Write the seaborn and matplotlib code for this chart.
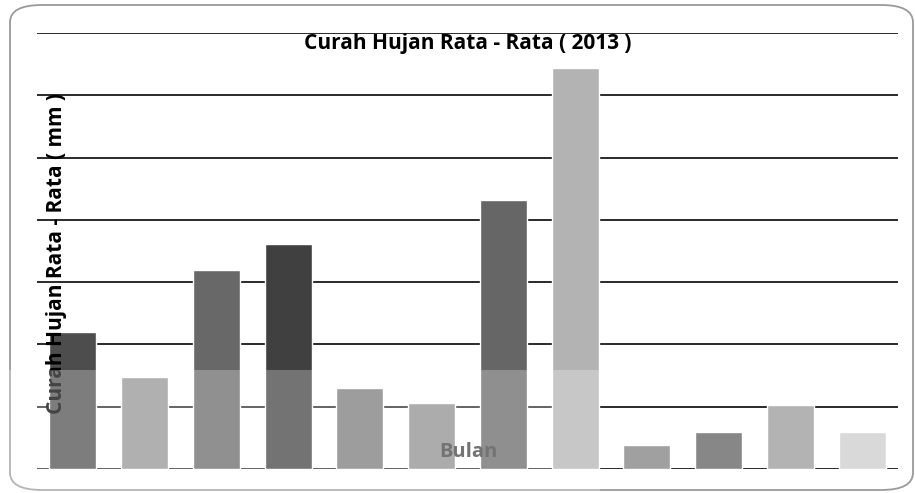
import numpy as np
import pandas as pd
import matplotlib.pyplot as plt
from matplotlib.patches import FancyBboxPatch, Rectangle
import seaborn as sns

# monthly average rainfall 2013 (grid step = 50)
bulan = ['Jan', 'Feb', 'Mar', 'Apr', 'Mei', 'Jun',
         'Jul', 'Agu', 'Sep', 'Okt', 'Nov', 'Des']
curah_hujan = [110, 74, 160, 181, 65, 53, 216, 322, 19, 30, 51, 30]
warna = ['#4d4d4d', '#939393', '#686868', '#404040', '#7a7a7a', '#8e8e8e',
         '#666666', '#b3b3b3', '#a0a0a0', '#878787', '#b3b3b3', '#d9d9d9']

df = pd.DataFrame({'Bulan': bulan, 'Curah': curah_hujan})

sns.set_style('white')
plt.rcParams['font.family'] = ['Open Sans', 'DejaVu Sans']

fig = plt.figure(figsize=(9.15, 4.93), dpi=100)
ax = fig.add_axes([37 / 915, 24 / 493, 861 / 915, 436 / 493])

sns.barplot(data=df, x='Bulan', y='Curah', hue='Bulan', palette=warna,
            legend=False, width=0.655, saturation=1, ax=ax)

ax.set_ylim(0, 350)
ax.set_xlim(-0.5, 11.5)
ax.set_yticks(np.arange(0, 351, 50))
ax.yaxis.grid(True, color='#2a2a2a', linewidth=1.4)
ax.set_axisbelow(True)
for s in ax.spines.values():
    s.set_visible(False)
ax.tick_params(left=False, bottom=False, labelleft=False, labelbottom=False)
ax.set_xlabel('')
ax.set_ylabel('')

# titles / axis labels sit inside the plot area
ax.text(0.5, 0.976, 'Curah Hujan Rata - Rata ( 2013 )', transform=ax.transAxes,
        ha='center', va='center', fontsize=15, fontweight='bold', color='black',
        zorder=5)
ax.text(0.0232, 0.494, 'Curah Hujan Rata - Rata ( mm )', transform=ax.transAxes,
        rotation=90, ha='center', va='center', fontsize=15, fontweight='bold',
        color='black', zorder=5)
ax.text(0.501, 0.039, 'Bulan', transform=ax.transAxes, ha='center', va='center',
        fontsize=14.5, fontweight='bold', color='#404040', zorder=5)

# rounded frame around the chart
frame = FancyBboxPatch((10 / 915, 3 / 493), 903 / 915, 485 / 493,
                       boxstyle='round,pad=0,rounding_size=0.035',
                       transform=fig.transFigure, fill=False,
                       edgecolor='#9a9a9a', linewidth=1.3)
fig.add_artist(frame)

# faded watermark band at the bottom
fig.add_artist(Rectangle((0, 0), 600 / 915, 123 / 493, transform=fig.transFigure,
                         facecolor='white', alpha=0.27, edgecolor='none',
                         zorder=10))

fig.savefig('out.png', dpi=100)
